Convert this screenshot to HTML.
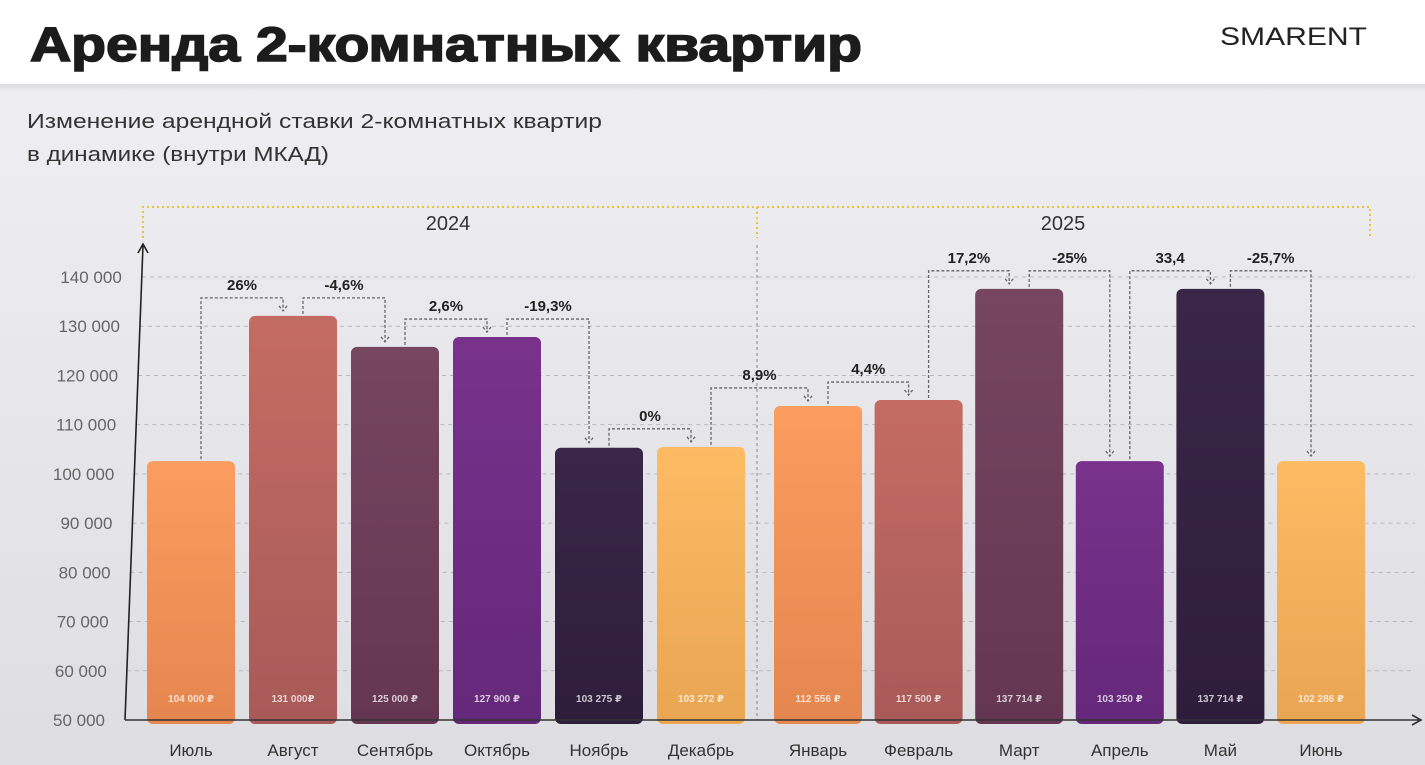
<!DOCTYPE html>
<html><head><meta charset="utf-8"><style>
html,body{margin:0;padding:0;width:1425px;height:765px;overflow:hidden;background:#ececf0;}
svg{display:block;font-family:"Liberation Sans","DejaVu Sans",sans-serif;}
</style></head><body>
<svg id="chart" width="1425" height="765" viewBox="0 0 1425 765">
<defs>
<linearGradient id="bg" x1="0" y1="0" x2="0" y2="1"><stop offset="0" stop-color="#f1f1f5"/><stop offset="1" stop-color="#dedee2"/></linearGradient>
<linearGradient id="hs" x1="0" y1="0" x2="0" y2="1"><stop offset="0" stop-color="#000" stop-opacity="0.08"/><stop offset="1" stop-color="#000" stop-opacity="0"/></linearGradient>
</defs>
<rect x="0" y="0" width="1425" height="765" fill="url(#bg)"/>
<rect x="0" y="0" width="1425" height="84" fill="#ffffff"/>
<rect x="0" y="84" width="1425" height="8" fill="url(#hs)"/>
<text x="30" y="61" font-size="48" font-weight="bold" fill="#1c1c1c" stroke="#1c1c1c" stroke-width="1.6" textLength="832" lengthAdjust="spacingAndGlyphs">Аренда 2-комнатных квартир</text>
<text x="1220" y="45" font-size="25" fill="#222" textLength="147" lengthAdjust="spacingAndGlyphs">SMARENT</text>
<text x="27" y="128" font-size="20" fill="#333" textLength="575" lengthAdjust="spacingAndGlyphs">Изменение арендной ставки 2-комнатных квартир</text>
<text x="27" y="161" font-size="20" fill="#333" textLength="302" lengthAdjust="spacingAndGlyphs">в динамике (внутри МКАД)</text>
<g stroke="#e8c43a" stroke-width="2" stroke-dasharray="2 3" fill="none">
<path d="M143 238 V207 H1370 V238 M757 207 V238"/>
</g>
<text x="448" y="230" font-size="20" fill="#333" text-anchor="middle">2024</text>
<text x="1063" y="230" font-size="20" fill="#333" text-anchor="middle">2025</text>
<g id="grid"></g><g id="bars"></g><g id="ann"></g><g id="axes"></g>
</svg>
<script>
const categories=["Июль","Август","Сентябрь","Октябрь","Ноябрь","Декабрь","Январь","Февраль","Март","Апрель","Май","Июнь"];
const values=[102600,132100,125800,127800,105300,105500,113800,115000,137600,102600,137600,102600];
const valueLabels=["104 000 ₽","131 000₽","125 000 ₽","127 900 ₽","103 275 ₽","103 272 ₽","112 556 ₽","117 500 ₽","137 714 ₽","103 250 ₽","137 714 ₽","102 286 ₽"];
const changeLabels=["26%","-4,6%","2,6%","-19,3%","0%","8,9%","4,4%","17,2%","-25%","33,4","-25,7%"];
const yTicks=[50000,60000,70000,80000,90000,100000,110000,120000,130000,140000];
const tickLabels=["50 000","60 000","70 000","80 000","90 000","100 000","110 000","120 000","130 000","140 000"];
const colors=[["#fb9d5f","#e4864f"],["#c46c63","#a85a58"],["#764660","#643652"],["#78328c","#64287a"],["#3a2748","#2e1d3a"],["#fdbb64","#e9a552"],["#fb9d5f","#e4864f"],["#c46c63","#a85a58"],["#764660","#643652"],["#78328c","#64287a"],["#3a2748","#2e1d3a"],["#fdbb64","#e9a552"]];
const NS="http://www.w3.org/2000/svg";
const y0=720,pxPer=443/90000;
function y(v){return y0-(v-50000)*pxPer;}
function xc(i){return 191+i*102+(i>=6?15:0)-(i>=6?(i-6)*1.4:0);}
function axisX(yy){return 125+(720-yy)*18/475;}
const bw=88;
function mk(tag,attrs,parent){const e=document.createElementNS(NS,tag);for(const k in attrs)e.setAttribute(k,attrs[k]);parent.appendChild(e);return e;}
const grid=document.getElementById('grid'),bars=document.getElementById('bars'),ann=document.getElementById('ann'),axes=document.getElementById('axes');
const defs=document.querySelector('defs');
yTicks.forEach((t,i)=>{
  const yy=y(t);
  if(i>0){const g=mk('line',{x1:axisX(yy),x2:1415,y1:yy,y2:yy,stroke:'#b8b8be','stroke-width':1,'stroke-dasharray':'4 4'},grid);
  
  }
  const tx=mk('text',{x:axisX(yy)-20,y:yy+6,'font-size':17,fill:'#666','text-anchor':'end'},axes);
  tx.textContent=tickLabels[i];
  
  
});
const sep=mk('line',{x1:757,x2:757,y1:245,y2:720,stroke:'#888','stroke-width':1,'stroke-dasharray':'3 3'},grid);


categories.forEach((c,i)=>{
  const gid='bg'+i;
  const lg=mk('linearGradient',{id:gid,x1:0,y1:0,x2:0,y2:1},defs);
  mk('stop',{offset:0,'stop-color':colors[i][0]},lg);mk('stop',{offset:1,'stop-color':colors[i][1]},lg);
  const top=y(values[i]);
  const r=mk('rect',{x:xc(i)-bw/2,y:top,width:bw,height:y0-top+4,rx:6,fill:'url(#'+gid+')'},bars);
  
  
  const vl=mk('text',{x:xc(i),y:702,'font-size':10,'font-weight':'bold',fill:'#fff','fill-opacity':0.75,'text-anchor':'middle'},bars);
  vl.textContent=valueLabels[i];
  
  
  const ml=mk('text',{x:xc(i),y:756,'font-size':17,fill:'#333','text-anchor':'middle'},axes);
  ml.textContent=c;
  
  
});
changeLabels.forEach((l,i)=>{
  const t1=y(values[i]),t2=y(values[i+1]);
  const by=Math.min(t1,t2)-18;
  const xl=xc(i)+10,xr=xc(i+1)-10;
  const p=mk('path',{d:`M${xl} ${t1-2} V${by} H${xr} V${t2-5} M${xr-4} ${t2-10} L${xr} ${t2-5} L${xr+4} ${t2-10}`,fill:'none',stroke:'#666','stroke-width':1.3,'stroke-dasharray':'3 2'},ann);
  
  
  const tx=mk('text',{x:(xl+xr)/2,y:by-8,'font-size':15,'font-weight':'bold',fill:'#222','text-anchor':'middle'},ann);
  tx.textContent=l;
  
  
});
const ya=mk('path',{d:'M125 720 L143 245 M138 253 L143 244 L148 253',fill:'none',stroke:'#222','stroke-width':1.6},axes);


const xa=mk('path',{d:'M125 720 H1420 M1412 715 L1421 720 L1412 725',fill:'none',stroke:'#333','stroke-width':1.6},axes);


</script>
</body></html>
